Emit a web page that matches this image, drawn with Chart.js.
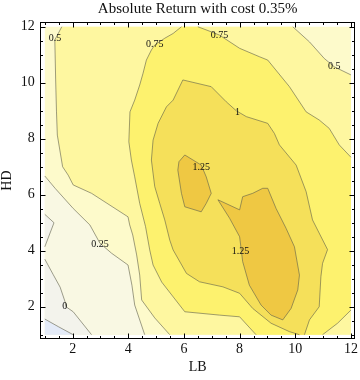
<!DOCTYPE html>
<html><head><meta charset="utf-8">
<script src="https://cdn.jsdelivr.net/npm/chart.js@4.4.1/dist/chart.umd.min.js"></script>
<style>html,body{margin:0;padding:0;background:#fff}</style>
</head><body>
<canvas id="c" width="360" height="380"></canvas>
<script>
// ---- text ----
const chartTitle = 'Absolute Return with cost 0.35%';
const xTitle = 'LB';
const yTitle = 'HD';
const xTicks = [2, 4, 6, 8, 10, 12];
const yTicks = [2, 4, 6, 8, 10, 12];
const minorStep = 0.5;

// ---- contour levels (LB, HD) ----
const levels = [-0.25, 0, 0.25, 0.5, 0.75, 1, 1.25];
const lineM025 = [[1,1.56],[1.5,1.28],[2.02,1.0]];
const line0a = [[1,5.3],[1.33,5.0],[1,4.14]];
const line0b = [[1,3.7],[1.3,3.15],[1.55,2.7],[1.72,2.2],[1.76,2.0],[2.02,1.82],[2.68,1.0]];
const line025 = [[1,6.67],[1.37,6.23],[2.02,5.51],[2.62,4.92],[2.98,4.27],[3.40,3.91],[3.99,3.49],[4.13,2.77],[4.23,2.06],[4.59,1.0]];
const line050a = [[1.61,12],[1.36,11.53],[1.39,10.10],[1.42,8.96],[1.45,8.13],[1.64,7.0],[1.84,6.70],[2.02,6.35],[2.68,6.05],[3.99,5.21],[4.05,4.92],[4.16,4.56],[4.30,3.85],[4.41,3.13],[4.48,2.24],[4.95,1.60],[5.49,1.0]];
const line050b = [[9.91,12],[10.51,11.46],[11.04,10.87],[11.40,10.57],[12,10.28]];
const line075a = [[5.91,12],[5.61,11.76],[5.31,11.59],[4.95,11.35],[4.83,11.17],[4.65,10.81],[4.53,10.34],[4.41,9.92],[4.23,9.38],[4.06,8.96],[4.02,7.89],[4.11,7.24],[4.23,6.64],[4.41,5.69],[4.62,4.86],[4.77,4.03],[4.89,3.49],[5.20,2.88],[6.03,1.82],[7.28,1.70],[8.0,1.64],[8.59,1.0]];
const line075b = [[6.50,12],[6.98,11.82],[7.28,11.70],[8.0,11.23],[8.71,10.93],[9.01,10.81],[9.79,9.86],[10.39,8.96],[10.86,8.67],[11.22,8.37],[11.58,7.78],[12,7.34]];
const line075c = [[12,1.88],[11.52,1.41],[10.98,1.0]];
const line100 = [[10.15,1.0],[9.79,1.11],[9.13,1.41],[8.47,1.94],[8.0,2.48],[7.40,2.71],[6.56,2.89],[6.09,3.19],[5.61,4.03],[5.49,4.38],[5.31,5.10],[5.13,5.69],[4.95,6.29],[4.83,7.24],[4.89,7.95],[5.07,8.55],[5.37,9.14],[5.61,9.38],[5.96,10.10],[6.98,9.86],[7.52,9.32],[7.88,9.00],[8.24,8.79],[9.01,8.55],[9.25,8.19],[9.43,7.78],[10.03,7.06],[10.39,6.11],[10.62,5.10],[11.16,4.04],[10.98,3.55],[10.92,3.07],[10.86,2.00],[10.51,1.53],[10.33,1.0]];
const line125a = [[6.03,7.42],[5.82,7.18],[5.78,6.88],[5.91,6.05],[6.03,5.57],[6.62,5.39],[6.80,5.69],[6.98,6.05],[6.80,6.64],[6.62,7.06],[6.03,7.42]];
const line125b = [[7.22,5.82],[8.0,5.46],[8.11,5.93],[8.47,6.05],[8.83,6.23],[9.01,6.23],[9.31,5.51],[9.67,4.80],[9.97,4.14],[10.15,3.13],[10.09,2.60],[9.85,1.94],[9.55,1.53],[9.13,1.70],[8.77,2.06],[8.35,2.77],[8.11,3.61],[8.0,4.50],[7.64,5.16],[7.22,5.82]];

// contour labels (text, LB, HD)
const labelText = ['0.5','0.75','0.75','0.5','1','1.25','1.25','0.25','0'];
const labelLB   = [1.37, 4.95, 7.28, 11.40, 7.92, 6.62, 8.03, 2.98, 1.72];
const labelHD   = [11.59, 11.38, 11.70, 10.57, 8.95, 6.96, 3.99, 4.23, 2.0];

// data extent
const xMin = 1, xMax = 12, yMin = 1, yMax = 12;

// ---- styles ----
const bandColors = ['#E4EBF8','#F3F3EC','#F9F8E3','#FDFACB','#FEF7A0','#FDF26E','#F5E05A','#EFC843'];
const lineColor = 'rgba(95,95,75,0.6)';
const serif = '"Liberation Serif", "Times New Roman", serif';

// ---- build region polygons ----
const rev = a => a.slice().reverse();
const close = a => a.concat([a[0]]);
const regions = [
  {pts: close([[xMin,yMin],[xMax,yMin],[xMax,yMax],[xMin,yMax]]), c: bandColors[3]},
  {pts: close(line025.concat([[xMin,yMin]])), c: bandColors[2]},
  {pts: close(line0a), c: bandColors[1]},
  {pts: close(line0b.concat([[xMin,yMin]])), c: bandColors[1]},
  {pts: close(lineM025.concat([[xMin,yMin]])), c: bandColors[0]},
  {pts: close(line050a.concat([[xMax,yMin]], rev(line050b))), c: bandColors[4]},
  {pts: close(line075b.concat(line075c, rev(line075a))), c: bandColors[5]},
  {pts: close(line100), c: bandColors[6]},
  {pts: line125a, c: bandColors[7]},
  {pts: line125b, c: bandColors[7]},
];
const contourLines = [lineM025, line0a, line0b, line025, line050a, line050b, line075a, line075b, line075c, line100, line125a, line125b];

const toXY = a => a.map(p => ({x: p[0], y: p[1]}));
const datasets = [];
regions.forEach(r => datasets.push({
  data: toXY(r.pts), showLine: true, fill: 'shape', backgroundColor: r.c,
  borderWidth: 0, borderColor: 'rgba(0,0,0,0)', pointRadius: 0, pointHoverRadius: 0, tension: 0
}));
contourLines.forEach(l => datasets.push({
  data: toXY(l), showLine: true, fill: false, borderColor: lineColor,
  borderWidth: 1, pointRadius: 0, pointHoverRadius: 0, tension: 0
}));
const N = datasets.length;
datasets.forEach((d, i) => d.order = N - i);

const framePlugin = {
  id: 'frame',
  afterDatasetsDraw(chart) {
    const {ctx, chartArea: a, scales: {x, y}} = chart;
    ctx.save();
    // contour labels
    ctx.fillStyle = '#111';
    ctx.font = '10px ' + serif;
    ctx.textAlign = 'center';
    ctx.textBaseline = 'middle';
    labelText.forEach((t, i) => ctx.fillText(t, x.getPixelForValue(labelLB[i]), y.getPixelForValue(labelHD[i])));
    // frame
    ctx.strokeStyle = '#000';
    ctx.lineWidth = 1;
    const L = Math.round(a.left) + 0.5, R = Math.round(a.right) - 0.5;
    const T = Math.round(a.top) + 0.5, B = Math.round(a.bottom) - 0.5;
    ctx.strokeRect(L, T, R - L, B - T);
    ctx.beginPath();
    for (let v = xMin; v <= xMax + 1e-9; v += minorStep) {
      const len = xTicks.includes(v) ? 5 : 2.5;
      const px = Math.round(x.getPixelForValue(v)) + 0.5;
      ctx.moveTo(px, B); ctx.lineTo(px, B - len);
      ctx.moveTo(px, T); ctx.lineTo(px, T + len);
    }
    for (let v = yMin; v <= yMax + 1e-9; v += minorStep) {
      const len = yTicks.includes(v) ? 5 : 2.5;
      const py = Math.round(y.getPixelForValue(v)) + 0.5;
      ctx.moveTo(L, py); ctx.lineTo(L + len, py);
      ctx.moveTo(R, py); ctx.lineTo(R - len, py);
    }
    ctx.stroke();
    ctx.restore();
  }
};

new Chart(document.getElementById('c'), {
  type: 'scatter',
  data: {datasets},
  plugins: [framePlugin],
  options: {
    responsive: false,
    animation: false,
    devicePixelRatio: 1,
    layout: {padding: 0},
    plugins: {
      legend: {display: false},
      tooltip: {enabled: false},
      title: {display: true, text: chartTitle, fullSize: false, color: '#111',
        font: {family: serif, size: 15, weight: 'normal', lineHeight: 1.2}, padding: {top: 0, bottom: 4}},
      filler: {propagate: false}
    },
    scales: {
      x: {
        type: 'linear', min: 0.82, max: 12.16,
        grid: {display: false, drawTicks: false}, border: {display: false},
        afterBuildTicks: s => { s.ticks = xTicks.map(v => ({value: v})); },
        afterFit: s => { s.height = 40.8; },
        ticks: {color: '#111', padding: 2, font: {family: serif, size: 14}, callback: v => String(v), maxRotation: 0},
        title: {display: true, text: xTitle, color: '#111', font: {family: serif, size: 14, lineHeight: 1}, padding: {top: 0, bottom: 6}}
      },
      y: {
        type: 'linear', min: 0.84, max: 12.17,
        grid: {display: false, drawTicks: false}, border: {display: false},
        afterBuildTicks: s => { s.ticks = yTicks.map(v => ({value: v})); },
        afterFit: s => { s.width = 39.8; },
        ticks: {color: '#111', padding: 5, font: {family: serif, size: 14}, callback: v => String(v)},
        title: {display: true, text: yTitle, color: '#111', font: {family: serif, size: 14, lineHeight: 1}, padding: {top: 0, bottom: 0}}
      }
    }
  }
});
</script>
</body></html>
